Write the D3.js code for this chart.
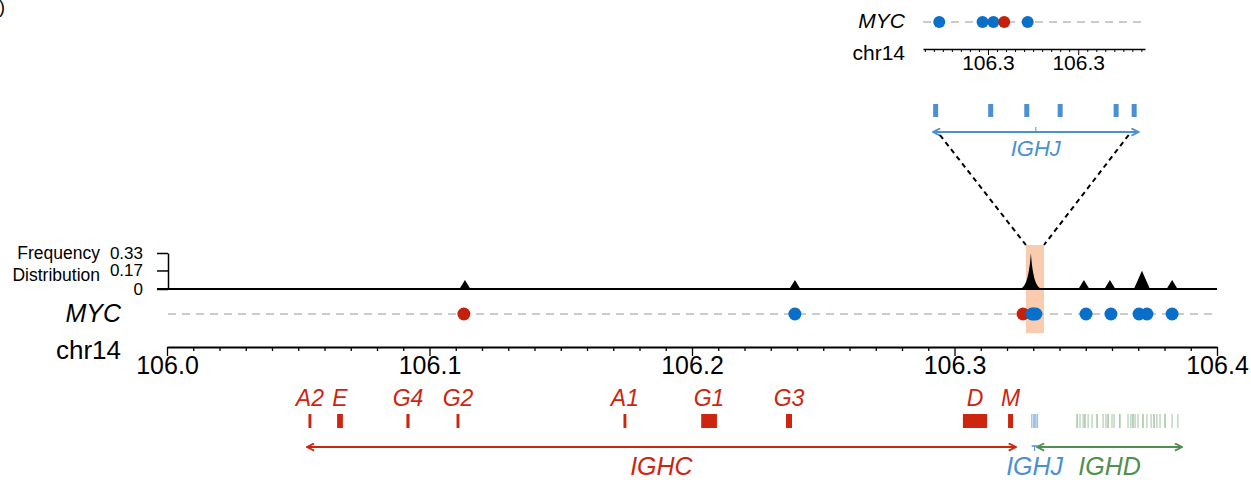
<!DOCTYPE html>
<html>
<head>
<meta charset="utf-8">
<script src="https://cdn.jsdelivr.net/npm/d3@7"></script>
<style>
body{margin:0;background:#fff;}
svg{display:block;font-family:Arial,"Liberation Sans",sans-serif;}
</style>
</head>
<body>
<div id="chart"></div>
<script>
// breakpoints of MYC partners on chr14 (Mb)
const breakPos   = [106.1131, 106.2392, 106.3261, 106.3295, 106.3302, 106.3310, 106.3501, 106.3596, 106.3703, 106.3733, 106.3829];
const breakGroup = ["A", "B", "A", "B", "B", "B", "B", "B", "B", "B", "B"];

// frequency distribution peaks
const freqPos = [106.1135, 106.2392, 106.3291, 106.3493, 106.3592, 106.3714, 106.3829];
const freqVal = [0.083, 0.083, 0.33, 0.083, 0.083, 0.167, 0.083];
const freqTicks = [0, 0.17, 0.33];

// zoomed IGHJ region
const insetPos   = [106.32946, 106.32994, 106.33006, 106.33018, 106.33044];
const insetGroup = ["B", "B", "B", "A", "B"];
const ighjPos = [106.32942, 106.33003, 106.33043, 106.33080, 106.33142, 106.33162];
const ighjSpan = [106.32939, 106.33167];
const highlight = [106.3272, 106.3341];

// constant region genes
const ighcNames = ["A2", "E", "G4", "G2", "A1", "G1", "G3", "D", "M"];
const ighcStart = [106.0539, 106.0648, 106.0912, 106.1103, 106.1739, 106.2035, 106.2358, 106.3032, 106.3204];
const ighcEnd   = [106.0550, 106.0670, 106.0924, 106.1114, 106.1750, 106.2095, 106.2381, 106.3124, 106.3223];
const ighcSpan = [106.0533, 106.3234];

// diversity genes
const ighdPos = [106.3467, 106.3478, 106.3490, 106.3497, 106.3509, 106.3524, 106.3543, 106.3566, 106.3577,
                 106.3585, 106.3600, 106.3608, 106.3630, 106.3661, 106.3672, 106.3680, 106.3688, 106.3699,
                 106.3718, 106.3733, 106.3749, 106.3760, 106.3771, 106.3783, 106.3802, 106.3829, 106.3851];
const ighdSpan = [106.3314, 106.3867];

const RED = "#cc2610", BLUE = "#0a6fc8", JBLUE = "#4b90d2", GREEN = "#4f8f4f";

const svg = d3.select("#chart").append("svg").attr("width", 1251).attr("height", 480);

const x = d3.scaleLinear().domain([106.0, 106.4]).range([167, 1217]);
const yF = d3.scaleLinear().domain([0, 0.33]).range([289, 253]);
const insetX = d3.scaleLinear().domain([106.32928, 106.33174]).range([923, 1145]);
const color = d3.scaleOrdinal().domain(["A", "B"]).range(["#c4200c", BLUE]);

const defs = svg.append("defs");
function marker(id, c) {
    defs.append("marker")
        .attr("id", id)
        .attr("viewBox", "0 0 10 10")
        .attr("refX", 9).attr("refY", 5)
        .attr("markerWidth", 10).attr("markerHeight", 9)
        .attr("markerUnits", "userSpaceOnUse")
        .attr("orient", "auto-start-reverse")
        .append("path")
        .attr("d", "M1,1 L9,5 L1,9")
        .attr("fill", "none")
        .attr("stroke", c)
        .attr("stroke-width", 2);
}
marker("arR", RED);
marker("arG", GREEN);
marker("arJ", JBLUE);

function arrow(x1, x2, y, c, id) {
    svg.append("line")
        .attr("x1", x1).attr("x2", x2).attr("y1", y).attr("y2", y)
        .attr("stroke", c).attr("stroke-width", 2)
        .attr("marker-start", "url(#" + id + ")")
        .attr("marker-end", "url(#" + id + ")");
}

// panel letter remnant (cropped in the source figure)
svg.append("text").attr("x", 5).attr("y", 13).attr("text-anchor", "end")
    .style("font-size", "18px").text("b)");

// ---------- inset ----------
svg.append("line")
    .attr("x1", 923).attr("x2", 1145).attr("y1", 22).attr("y2", 22)
    .attr("stroke", "#bbb").attr("stroke-width", 1.5).attr("stroke-dasharray", "8,6");

svg.append("g").selectAll("circle")
    .data(insetPos.map((p, i) => ({pos: p, g: insetGroup[i]})))
    .join("circle")
    .attr("cx", d => insetX(d.pos)).attr("cy", 22).attr("r", 6)
    .attr("fill", d => color(d.g));

svg.append("text").attr("x", 905).attr("y", 28).attr("text-anchor", "end")
    .style("font-size", "21px").style("font-style", "italic").text("MYC");
svg.append("text").attr("x", 905).attr("y", 60).attr("text-anchor", "end")
    .style("font-size", "21px").text("chr14");

const isMilli = d => Math.abs(d * 1000 - Math.round(d * 1000)) < 1e-6;
const insetAxis = svg.append("g")
    .attr("transform", "translate(0,49)")
    .call(d3.axisBottom(insetX).ticks(30).tickSize(3).tickSizeOuter(0).tickPadding(3)
        .tickFormat(d => isMilli(d) ? d3.format(".1f")(d) : ""));
insetAxis.select(".domain").attr("stroke-width", 1.5);
insetAxis.selectAll(".tick line").filter(d => isMilli(d)).attr("y2", 6);
insetAxis.selectAll("text").style("font-size", "21px").attr("fill", "#000");

svg.append("g").selectAll("rect")
    .data(ighjPos)
    .join("rect")
    .attr("x", d => insetX(d) - 2.5).attr("y", 104)
    .attr("width", 5).attr("height", 13)
    .attr("fill", JBLUE);

arrow(insetX(ighjSpan[0]), insetX(ighjSpan[1]), 132, JBLUE, "arJ");
const midJ = insetX((ighjSpan[0] + ighjSpan[1]) / 2);
svg.append("line").attr("x1", midJ).attr("x2", midJ).attr("y1", 127).attr("y2", 132)
    .attr("stroke", JBLUE).attr("stroke-width", 1);
svg.append("text").attr("x", midJ).attr("y", 156).attr("text-anchor", "middle")
    .style("font-size", "22px").style("font-style", "italic").attr("fill", JBLUE).text("IGHJ");

// ---------- highlight + zoom lines ----------
svg.append("rect")
    .attr("x", x(highlight[0])).attr("y", 245)
    .attr("width", x(highlight[1]) - x(highlight[0])).attr("height", 88)
    .attr("fill", "#f9ccb0");

svg.append("line")
    .attr("x1", insetX(ighjSpan[0]) + 7).attr("y1", 135)
    .attr("x2", x(highlight[0])).attr("y2", 245)
    .attr("stroke", "#000").attr("stroke-width", 2).attr("stroke-dasharray", "5,4");
svg.append("line")
    .attr("x1", insetX(ighjSpan[1]) - 10).attr("y1", 135)
    .attr("x2", x(highlight[1])).attr("y2", 245)
    .attr("stroke", "#000").attr("stroke-width", 2).attr("stroke-dasharray", "5,4");

// ---------- frequency distribution ----------
svg.append("text").attr("x", 100).attr("y", 259).attr("text-anchor", "end")
    .style("font-size", "17.5px").text("Frequency");
svg.append("text").attr("x", 100).attr("y", 281).attr("text-anchor", "end")
    .style("font-size", "17.5px").text("Distribution");

svg.append("line").attr("x1", 157).attr("x2", 1217).attr("y1", yF(0)).attr("y2", yF(0))
    .attr("stroke", "#000").attr("stroke-width", 2);

const yAxis = svg.append("g")
    .attr("transform", "translate(168,0)")
    .call(d3.axisLeft(yF).tickValues(freqTicks).tickSize(11).tickSizeOuter(0).tickPadding(14)
        .tickFormat(d => d === 0 ? "0" : d3.format(".2f")(d)));
yAxis.select(".domain").attr("stroke-width", 1.5);
yAxis.selectAll(".tick line").attr("stroke-width", 1.5);
yAxis.selectAll("text").style("font-size", "17px").attr("fill", "#000");

function peakPath(d) {
    const cx = x(d.pos), b = yF(0), t = yF(d.freq), h = b - t;
    if (d.freq > 0.3) {
        const w = 11;
        return `M${cx - w},${b} C${cx - 4},${b - 2} ${cx - 1.5},${b - h * 0.45} ${cx},${t} ` +
               `C${cx + 1.5},${b - h * 0.45} ${cx + 4},${b - 2} ${cx + w},${b} Z`;
    }
    const w = d.freq > 0.15 ? 8 : 5.5;
    return `M${cx - w},${b} L${cx},${t} L${cx + w},${b} Z`;
}
svg.append("g").selectAll("path")
    .data(freqPos.map((p, i) => ({pos: p, freq: freqVal[i]})))
    .join("path")
    .attr("d", peakPath)
    .attr("fill", "#000");

// ---------- MYC breakpoints ----------
svg.append("text").attr("x", 121).attr("y", 322).attr("text-anchor", "end")
    .style("font-size", "25px").style("font-style", "italic").text("MYC");

svg.append("line").attr("x1", 168).attr("x2", 1217).attr("y1", 314).attr("y2", 314)
    .attr("stroke", "#bbb").attr("stroke-width", 1.5).attr("stroke-dasharray", "8,6");

svg.append("g").selectAll("circle")
    .data(breakPos.map((p, i) => ({pos: p, g: breakGroup[i]})))
    .join("circle")
    .attr("cx", d => x(d.pos)).attr("cy", 314).attr("r", 6.5)
    .attr("fill", d => color(d.g));

// ---------- chr14 axis ----------
svg.append("text").attr("x", 121).attr("y", 359).attr("text-anchor", "end")
    .style("font-size", "26px").text("chr14");

const isTenth = d => Math.abs(d * 10 - Math.round(d * 10)) < 1e-6;
const xAxis = svg.append("g")
    .attr("transform", "translate(0,347)")
    .call(d3.axisBottom(x).ticks(40).tickSize(4).tickSizeOuter(0).tickPadding(5)
        .tickFormat(d => isTenth(d) ? d3.format(".1f")(d) : ""));
xAxis.select(".domain").attr("stroke-width", 1.8);
xAxis.selectAll(".tick line").attr("stroke-width", 1.3);
xAxis.selectAll(".tick line").filter(d => isTenth(d)).attr("y2", 9);
xAxis.selectAll("text").style("font-size", "25px").attr("fill", "#000");

// ---------- gene track ----------
const genes = ighcNames.map((n, i) => ({name: n, s: ighcStart[i], e: ighcEnd[i]}));
svg.append("g").selectAll("rect")
    .data(genes)
    .join("rect")
    .attr("x", d => x(d.s)).attr("y", 414)
    .attr("width", d => Math.max(2.5, x(d.e) - x(d.s))).attr("height", 14)
    .attr("fill", RED);
svg.append("g").selectAll("text")
    .data(genes)
    .join("text")
    .attr("x", d => x((d.s + d.e) / 2)).attr("y", 406)
    .attr("text-anchor", "middle")
    .style("font-size", "23px").style("font-style", "italic")
    .attr("fill", RED)
    .text(d => d.name);

svg.append("g").selectAll("line")
    .data(ighjPos)
    .join("line")
    .attr("x1", d => x(d)).attr("x2", d => x(d)).attr("y1", 414).attr("y2", 428)
    .attr("stroke", "#9ec3e6").attr("stroke-width", 1.2);

svg.append("g").selectAll("line")
    .data(ighdPos)
    .join("line")
    .attr("x1", d => x(d)).attr("x2", d => x(d)).attr("y1", 414).attr("y2", 428)
    .attr("stroke", "#7fad7f").attr("stroke-width", 1.2)
    .attr("opacity", (d, i) => i % 3 === 0 ? 0.9 : 0.6);

arrow(x(ighcSpan[0]), x(ighcSpan[1]), 447, RED, "arR");
arrow(x(ighdSpan[0]), x(ighdSpan[1]), 447, GREEN, "arG");

const jm = x((ighjSpan[0] + ighjSpan[1]) / 2);
svg.append("line").attr("x1", jm - 3).attr("x2", jm + 3).attr("y1", 446).attr("y2", 446)
    .attr("stroke", JBLUE).attr("stroke-width", 1.5);
svg.append("line").attr("x1", jm).attr("x2", jm).attr("y1", 446).attr("y2", 451)
    .attr("stroke", JBLUE).attr("stroke-width", 1);

svg.append("text").attr("x", x((ighcSpan[0] + ighcSpan[1]) / 2)).attr("y", 475)
    .attr("text-anchor", "middle").style("font-size", "25px").style("font-style", "italic")
    .attr("fill", RED).text("IGHC");
svg.append("text").attr("x", jm).attr("y", 475)
    .attr("text-anchor", "middle").style("font-size", "25px").style("font-style", "italic")
    .attr("fill", JBLUE).text("IGHJ");
svg.append("text").attr("x", x((ighdSpan[0] + ighdSpan[1]) / 2)).attr("y", 475)
    .attr("text-anchor", "middle").style("font-size", "25px").style("font-style", "italic")
    .attr("fill", GREEN).text("IGHD");
</script>
</body>
</html>
